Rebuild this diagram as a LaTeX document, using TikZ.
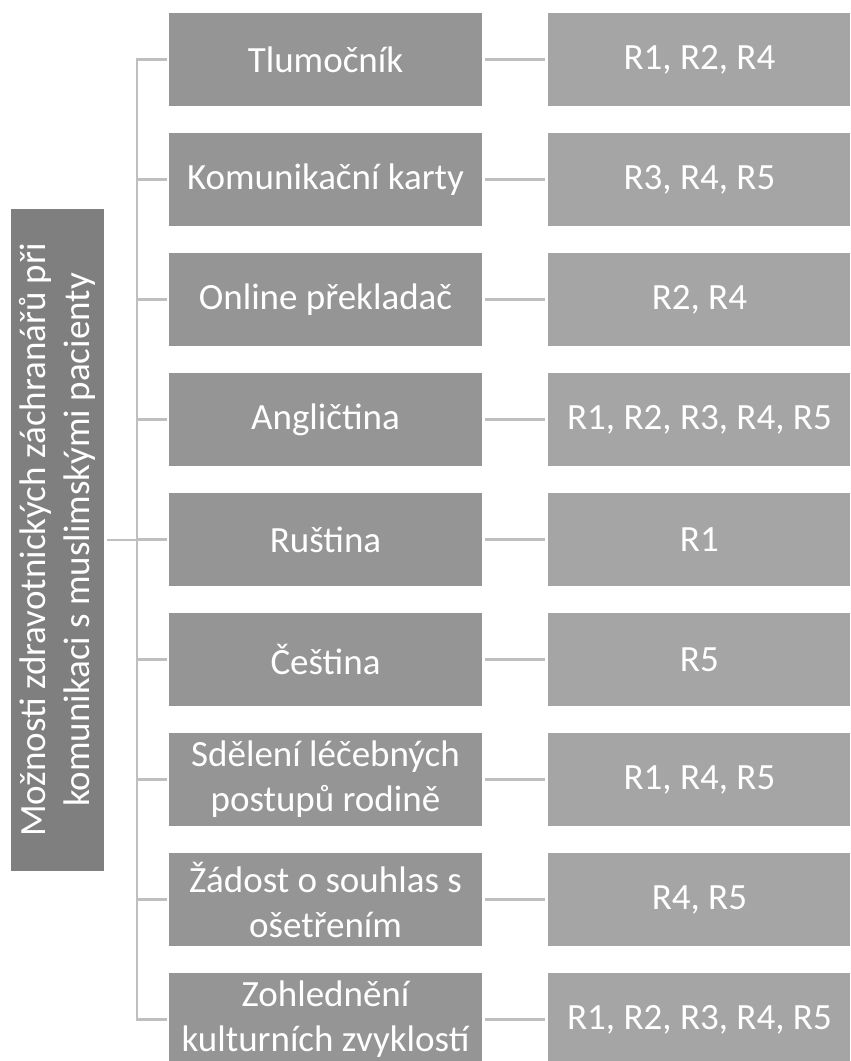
\documentclass[tikz,border=0pt]{standalone}
\usepackage{fontspec}
\setmainfont{Carlito}
\usetikzlibrary{positioning}
\definecolor{cRoot}{HTML}{7F7F7F}
\definecolor{cMid}{HTML}{959595}
\definecolor{cRes}{HTML}{A5A5A5}
\definecolor{cLine}{HTML}{BFBFBF}
\tikzset{
	rootbox/.style={rectangle, fill=cRoot, text=white, rotate=90, minimum width=662pt, minimum height=93pt, inner sep=0pt, align=center, font=\fontsize{37}{44}\selectfont},
	midbox/.style ={rectangle, fill=cMid, text=white, minimum width=313pt, minimum height=93pt, inner sep=0pt, align=center, font=\fontsize{37}{45}\selectfont},
	resbox/.style ={rectangle, fill=cRes, text=white, minimum width=302pt, minimum height=93pt, inner sep=0pt, align=center, font=\fontsize{37}{45}\selectfont},
	conn/.style   ={draw=cLine, line width=2.5pt},
}
\begin{document}
\begin{tikzpicture}[x=1pt, y=-1pt]
	\useasboundingbox (0,0) rectangle (851,1061);
	\node[rootbox] (root) at (57.5,540) {Možnosti zdravotnických záchranářů při\\komunikaci s muslimskými pacienty};
	\coordinate (trunk) at (137,540);
	\draw[conn, shorten <=3pt] (root.south) -- (trunk);
	\foreach \i/\txt/\res in {
		1/{Tlumočník}/{R1, R2, R4},
		2/{Komunikační karty}/{R3, R4, R5},
		3/{Online překladač}/{R2, R4},
		4/{Angličtina}/{R1, R2, R3, R4, R5},
		5/{Ruština}/{R1},
		6/{Čeština}/{R5},
		7/{Sdělení léčebných\\postupů rodině}/{R1, R4, R5},
		8/{Žádost o souhlas s\\ošetřením}/{R4, R5},
		9/{Zohlednění\\kulturních zvyklostí}/{R1, R2, R3, R4, R5}} {
		\node[midbox] (m\i) at (325.5,{59.5+120*(\i-1)}) {\txt};
		\node[resbox, right=66pt of m\i] (r\i) {\res};
		\draw[conn, shorten >=2pt] (trunk) |- (m\i.west);
		\draw[conn, shorten <=3pt, shorten >=3pt] (m\i) -- (r\i);
	}
\end{tikzpicture}
\end{document}
